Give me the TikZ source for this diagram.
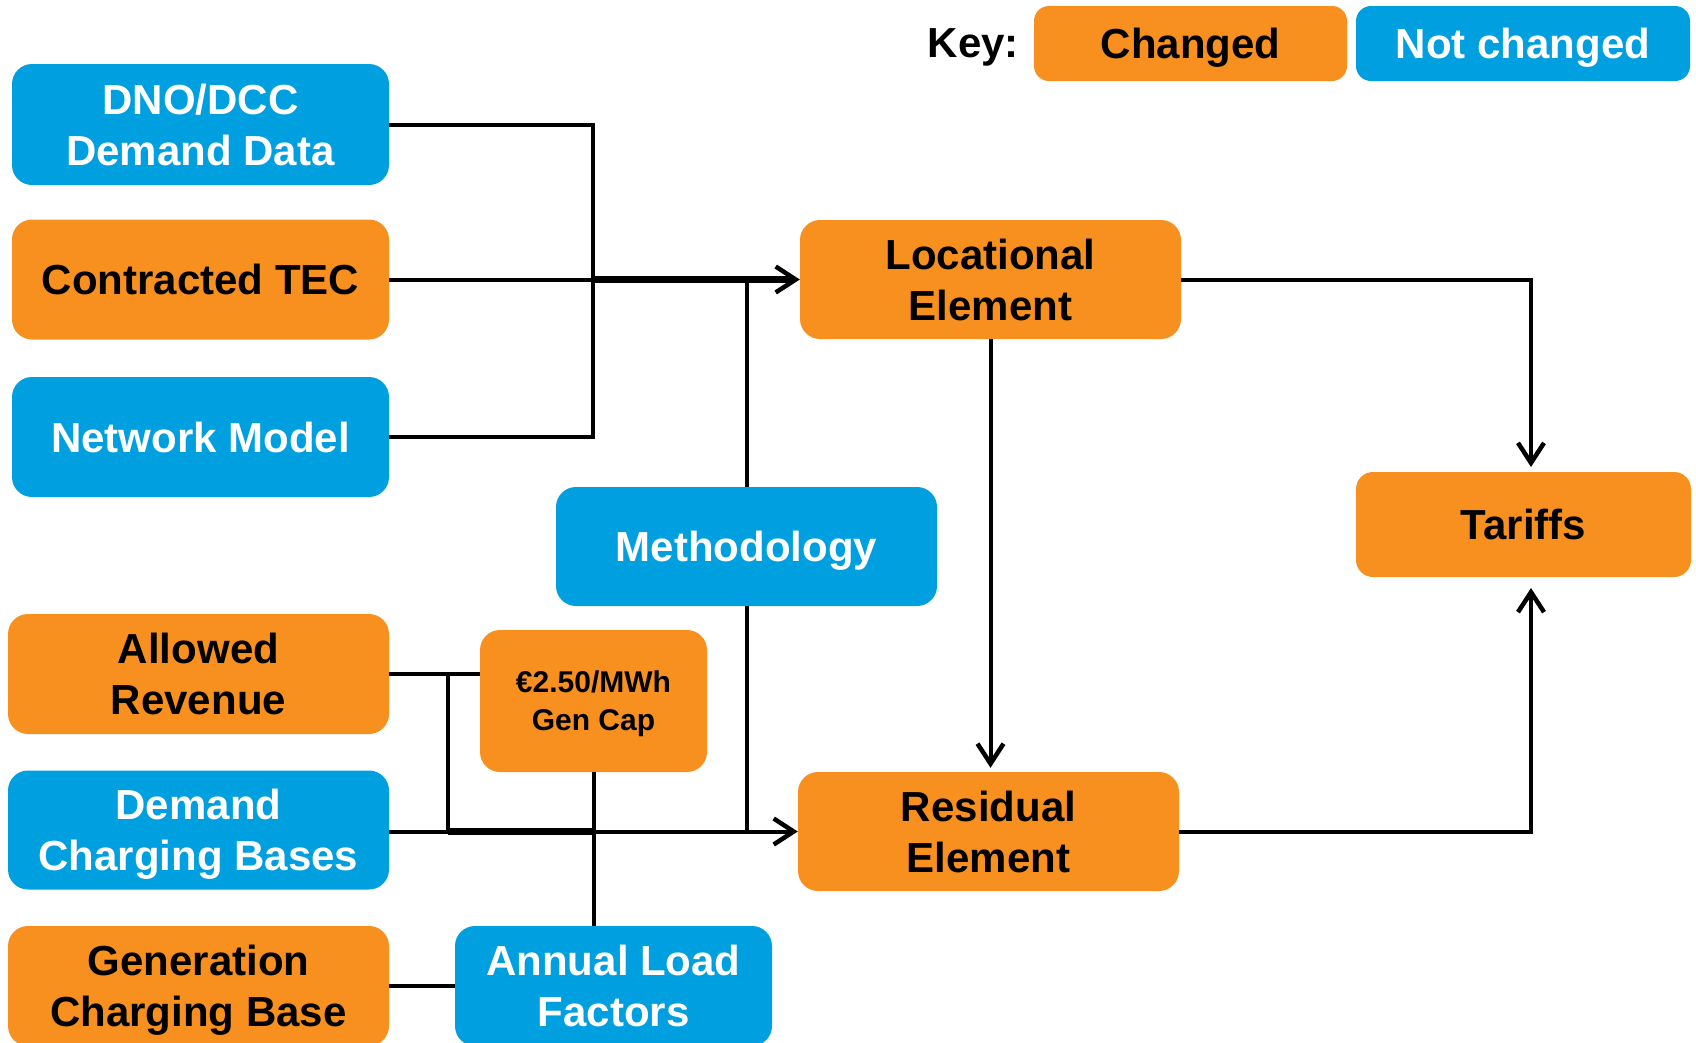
\documentclass[tikz,border=0pt]{standalone}
\usepackage{fontspec}
\setmainfont{Liberation Sans}
\usetikzlibrary{arrows.meta}
\definecolor{chg}{HTML}{F7901E}
\definecolor{nch}{HTML}{009FDF}
\begin{document}
\begin{tikzpicture}[x=1pt,y=-1pt,
  box/.style={rounded corners=20pt, inner sep=0pt, align=center, text depth=0pt, font=\fontsize{42}{51}\selectfont\bfseries},
  chgbox/.style={box, fill=chg, text=black},
  nchbox/.style={box, fill=nch, text=white},
  ln/.style={line width=4pt},
  thk/.style={line width=7pt},
  tip/.style={-{Straight Barb[length=20pt,width=26pt,line width=4.5pt]}}
]
\useasboundingbox (0,0) rectangle (1696,1042);
% key
\node[font=\fontsize{42}{50}\selectfont\bfseries, anchor=base east, inner sep=0pt] (key) at (1019,57) {Key:};
\node[chgbox, minimum width=313pt, minimum height=75pt, rounded corners=15pt] (kc) at (1190.5,43.5) {Changed};
\node[nchbox, minimum width=334pt, minimum height=75pt, rounded corners=15pt] (kn) at (1523,43.5) {Not changed};
% inputs
\node[nchbox, minimum width=377pt, minimum height=121pt] (dno) at (200.5,124.5) {DNO/DCC\\Demand Data};
\node[chgbox, minimum width=377pt, minimum height=120pt] (tec) at (200.5,279.5) {Contracted TEC};
\node[nchbox, minimum width=377pt, minimum height=120pt] (net) at (200.5,437) {Network Model};
\node[chgbox, minimum width=381pt, minimum height=120pt] (rev) at (198.5,674) {Allowed\\Revenue};
\node[nchbox, minimum width=381pt, minimum height=119pt] (dcb) at (198.5,830) {Demand\\Charging Bases};
\node[chgbox, minimum width=381pt, minimum height=120pt] (gcb) at (198.5,986) {Generation\\Charging Base};
\node[chgbox, minimum width=227pt, minimum height=142pt, font=\fontsize{30}{38}\selectfont\bfseries] (gc) at (593.5,701) {€2.50/MWh\\Gen Cap};
\node[nchbox, minimum width=317pt, minimum height=120pt] (alf) at (613.5,986) {Annual Load\\Factors};
\node[nchbox, minimum width=381pt, minimum height=119pt] (meth) at (746.5,546.5) {Methodology};
% elements
\node[chgbox, minimum width=381pt, minimum height=119pt] (loc) at (990.5,279.5) {Locational\\Element};
\node[chgbox, minimum width=381pt, minimum height=119pt] (res) at (988.5,831.5) {Residual\\Element};
\node[chgbox, minimum width=335pt, minimum height=105pt, rounded corners=17pt] (tar) at (1523.5,524.5) {Tariffs};
% junctions
\coordinate (jt) at (593,279.5);
\coordinate (jb) at (448,831.5);
\coordinate (tarin) at (1531,472);
\coordinate (tarout) at (1531,577);
% top connectors
\draw[ln] (dno.east) -| (jt) |- (net.east);
\draw[ln] (tec.east) -- (jt);
\draw[thk, tip] (jt) -- (loc.west);
\draw[ln] (meth.north) -- (meth.north |- jt);
% bottom connectors
\draw[ln] (rev.east) -- (rev.east -| gc.west);
\draw[ln] (rev.east -| jb) -- (jb);
\draw[ln, tip] (dcb.east |- jb) -- (res.west);
\draw[thk] (jb) -- (gc.south |- jb);
\draw[ln] (gc.south) -- (gc.south |- alf.north);
\draw[ln] (meth.south) -- (meth.south |- res.west);
\draw[ln] (gcb.east) -- (alf.west);
% outputs
\draw[ln, tip, shorten >=4pt] (loc.south) -- (loc.south |- res.north);
\draw[ln, tip, shorten >=5pt] (loc.east) -| (tarin);
\draw[ln, tip, shorten >=11pt] (res.east) -| (tarout);
\end{tikzpicture}
\end{document}
